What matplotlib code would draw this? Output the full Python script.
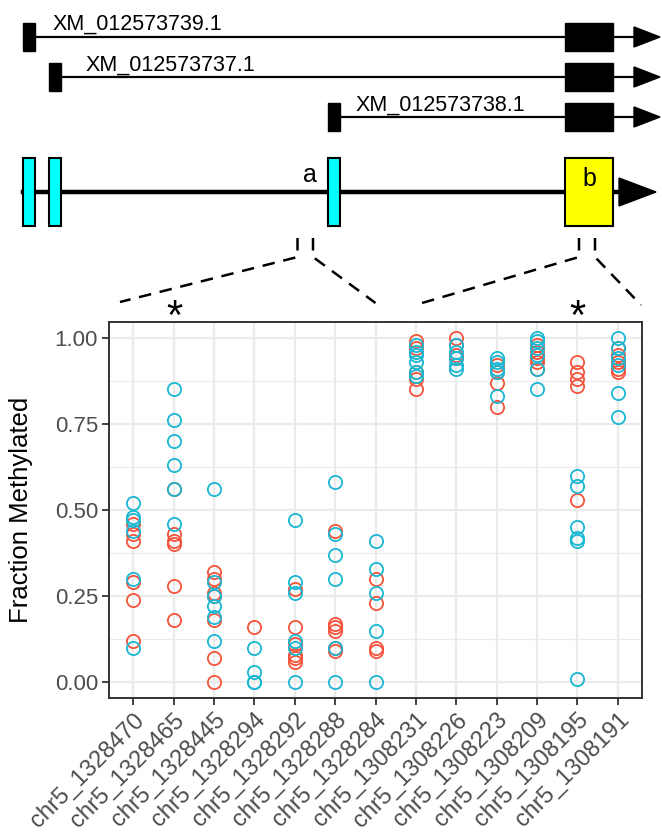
import numpy as np
import matplotlib
matplotlib.use('Agg')
import matplotlib.pyplot as plt
from matplotlib.patches import Rectangle, Polygon

plt.rcParams['font.family'] = ['Liberation Sans', 'DejaVu Sans']

# Datos: sitios CpG y fraccion metilada por grupo
sitios = ['chr5_1328470', 'chr5_1328465', 'chr5_1328445', 'chr5_1328294',
          'chr5_1328292', 'chr5_1328288', 'chr5_1328284', 'chr5_1308231',
          'chr5_1308226', 'chr5_1308223', 'chr5_1308209', 'chr5_1308195',
          'chr5_1308191']

rojo = [
    [0.46, 0.43, 0.41, 0.29, 0.24, 0.12],
    [0.56, 0.43, 0.41, 0.40, 0.28, 0.18],
    [0.32, 0.30, 0.26, 0.25, 0.18, 0.07, 0.0],
    [0.16],
    [0.27, 0.16, 0.11, 0.08, 0.07, 0.06],
    [0.44, 0.17, 0.16, 0.15, 0.10, 0.09],
    [0.30, 0.23, 0.10, 0.09],
    [0.99, 0.97, 0.90, 0.88, 0.85],
    [1.00, 0.98, 0.95, 0.94],
    [0.92, 0.90, 0.87, 0.80],
    [0.98, 0.96, 0.94, 0.93, 0.91],
    [0.93, 0.90, 0.88, 0.86, 0.53],
    [0.97, 0.95, 0.93, 0.91, 0.90],
]

azul = [
    [0.52, 0.48, 0.47, 0.44, 0.30, 0.10],
    [0.85, 0.76, 0.70, 0.63, 0.56, 0.46],
    [0.56, 0.29, 0.25, 0.22, 0.19, 0.12],
    [0.10, 0.03, 0.0, 0.0],
    [0.47, 0.29, 0.26, 0.12, 0.10, 0.0],
    [0.58, 0.43, 0.37, 0.30, 0.10, 0.0],
    [0.41, 0.33, 0.26, 0.15, 0.0],
    [0.98, 0.96, 0.95, 0.93, 0.90, 0.89],
    [0.98, 0.96, 0.94, 0.92, 0.91],
    [0.94, 0.93, 0.91, 0.90, 0.83],
    [1.00, 0.99, 0.97, 0.95, 0.91, 0.85],
    [0.60, 0.57, 0.45, 0.42, 0.41, 0.01],
    [1.00, 0.97, 0.94, 0.92, 0.84, 0.77],
]

transcritos = ['XM_012573739.1', 'XM_012573737.1', 'XM_012573738.1']

c_rojo = '#F5533A'
c_azul = '#19B7D3'

W, H = 662, 832
fig = plt.figure(figsize=(W / 100, H / 100), dpi=100)

# Panel de puntos
ax = fig.add_axes([109 / W, (H - 698) / H, (642 - 109) / W, (698 - 322) / H])
for i in range(len(sitios)):
    ax.plot([i] * len(rojo[i]), rojo[i], 'o', mfc='none', mec=c_rojo, ms=9.5, mew=1.3, zorder=3)
    ax.plot([i] * len(azul[i]), azul[i], 'o', mfc='none', mec=c_azul, ms=9.5, mew=1.3, zorder=3)

ax.set_xlim(-0.6, len(sitios) - 0.4)
ax.set_ylim(-0.046, 1.046)
ax.set_xticks(range(len(sitios)))
ax.set_xticklabels(sitios, rotation=45, ha='right', va='top', rotation_mode='anchor',
                   fontsize=17, color='#4D4D4D')
ax.set_yticks([0, 0.25, 0.5, 0.75, 1.0])
ax.set_yticklabels(['0.00', '0.25', '0.50', '0.75', '1.00'], fontsize=16, color='#4D4D4D')
ax.set_yticks([0.125, 0.375, 0.625, 0.875], minor=True)
ax.grid(True, which='major', color='#EBEBEB', lw=1.6, zorder=0)
ax.grid(True, which='minor', axis='y', color='#EBEBEB', lw=0.8, zorder=0)
ax.set_axisbelow(True)
ax.tick_params(axis='both', which='major', length=5, width=1.3, color='#333333', pad=3)
ax.tick_params(axis='y', which='minor', length=0)
for s in ax.spines.values():
    s.set_color('#333333')
    s.set_linewidth(1.4)
ax.set_ylabel('Fraction Methylated', fontsize=18.5)
ax.yaxis.set_label_coords(-0.142, 0.5)

# Diagrama del gen (coordenadas en pixeles)
g = fig.add_axes([0, 0, 1, 1], facecolor='none')
g.set_xlim(0, W)
g.set_ylim(H, 0)
g.axis('off')

filas = [(37, 23, 53, 30), (77, 48.5, 86, 71), (117, 328, 356, 111)]
for nombre, (yl, x0, xt, yt) in zip(transcritos, filas):
    g.plot([x0 + 6, 636], [yl, yl], color='black', lw=1.6)
    g.add_patch(Rectangle((x0, yl - 14), 12, 28, fc='black', ec='black', lw=1))
    g.add_patch(Rectangle((565, yl - 14), 48, 28, fc='black', ec='black', lw=1))
    g.add_patch(Polygon([[634, yl - 10], [634, yl + 10], [660, yl]], fc='black', ec='black'))
    g.text(xt, yt, nombre, fontsize=15.5, ha='left', va='baseline')

# gen principal
g.plot([23, 622], [192, 192], color='black', lw=3.2)
for xc in [23, 48.5, 328]:
    g.add_patch(Rectangle((xc, 158), 12, 68, fc='#00FFFF', ec='black', lw=1.5, zorder=3))
g.add_patch(Rectangle((565, 158), 48, 68, fc='#FFFF00', ec='black', lw=1.5, zorder=3))
g.add_patch(Polygon([[619, 178], [619, 206], [656, 192]], fc='black', ec='black'))
g.text(310, 175, 'a', fontsize=18, ha='center', va='center')
g.text(589, 179, 'b', fontsize=18, ha='center', va='center', zorder=4)

# lineas de zoom
kw = dict(color='black', lw=1.8, ls=(0, (5, 3.5)))
g.plot([297.5, 297.5, 120], [238, 257, 302], **kw)
g.plot([313, 313, 375.5], [238, 257, 303], **kw)
g.plot([579, 579, 422], [238, 257, 303], **kw)
g.plot([595, 595, 641], [238, 257, 305], **kw)

g.text(174, 318, '*', fontsize=30, ha='center', va='center')
g.text(577, 318, '*', fontsize=30, ha='center', va='center')

fig.savefig('out.png', dpi=100)
